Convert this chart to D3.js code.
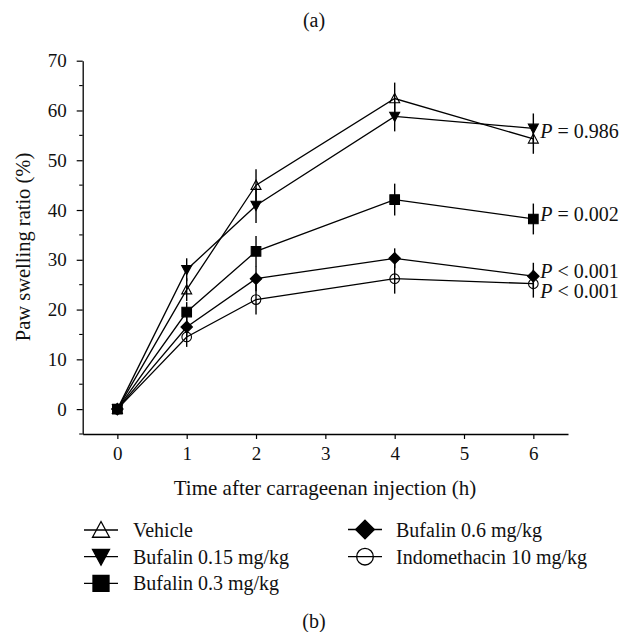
<!DOCTYPE html>
<html>
<head>
<meta charset="utf-8">
<script src="https://cdn.jsdelivr.net/npm/d3@7"></script>
<style>
  html, body { margin: 0; padding: 0; background: #fff; }
  svg { display: block; font-family: "Liberation Serif", "Times New Roman", serif; }
</style>
</head>
<body>
<svg id="chart" width="627" height="632"></svg>
<script>
// ---- data ----
const times = [0, 1, 2, 4, 6];
const seriesNames = ["Vehicle", "Bufalin 0.15 mg/kg", "Bufalin 0.3 mg/kg", "Bufalin 0.6 mg/kg", "Indomethacin 10 mg/kg"];
const vehicle      = [0, 24.0, 45.0, 62.4, 54.3];
const vehicleErr   = [0, 2.3, 3.2, 3.2, 3.0];
const bufalin015   = [0, 28.0, 40.9, 58.8, 56.4];
const bufalin015Err= [0, 2.3, 3.5, 3.0, 3.0];
const bufalin03    = [0, 19.5, 31.7, 42.1, 38.2];
const bufalin03Err = [0, 2.0, 3.1, 3.2, 3.1];
const bufalin06    = [0, 16.5, 26.2, 30.3, 26.7];
const bufalin06Err = [0, 2.0, 2.5, 2.0, 2.7];
const indomethacin = [0, 14.5, 22.0, 26.2, 25.2];
const indomethacinErr = [0, 2.0, 3.0, 3.0, 2.8];
const xTicks = [0, 1, 2, 3, 4, 5, 6];
const yTicks = [0, 10, 20, 30, 40, 50, 60, 70];
const yMinorTicks = [-5, 5, 15, 25, 35, 45, 55, 65];
const pLabels = ["0.986", "0.002", "0.001", "0.001"];
const pOps = ["=", "=", "<", "<"];
const pLabelY = [55.9, 39.2, 27.8, 23.8];

const values = [vehicle, bufalin015, bufalin03, bufalin06, indomethacin];
const errors = [vehicleErr, bufalin015Err, bufalin03Err, bufalin06Err, indomethacinErr];
const shapes = ["triUp", "triDown", "square", "diamond", "circle"];
const filled = [false, true, true, true, false];

// ---- layout ----
const svg = d3.select("#chart");
const x = d3.scaleLinear().domain([-0.5, 6.5]).range([82.7, 568]);
const y = d3.scaleLinear().domain([-5, 70]).range([434, 60.7]);

function shapePath(kind, s) {
  // s = nominal half-size
  switch (kind) {
    case "triUp": {
      const h = s * 1.0;
      return `M0,${-h}L${s},${h * 0.85}L${-s},${h * 0.85}Z`;
    }
    case "triDown": {
      const h = s * 1.0;
      return `M0,${h}L${s},${-h * 0.85}L${-s},${-h * 0.85}Z`;
    }
    case "square":
      return `M${-s},${-s}H${s}V${s}H${-s}Z`;
    case "diamond": {
      const d = s * 1.25;
      return `M0,${-d}L${d},0L0,${d}L${-d},0Z`;
    }
    case "circle":
      return d3.arc()({innerRadius: 0, outerRadius: s, startAngle: 0, endAngle: 2 * Math.PI});
  }
}

// ---- axes ----
const yAxis = d3.axisLeft(y).tickValues(yTicks).tickSize(6).tickSizeOuter(0).tickPadding(10).tickFormat(d3.format("d"));
const gy = svg.append("g").attr("transform", `translate(${x.range()[0]},0)`).call(yAxis);
gy.selectAll(".tick text").attr("font-size", 19).attr("font-family", "Liberation Serif").attr("fill", "#111");
gy.select(".domain").attr("stroke-width", 1.3);
gy.selectAll(".tick line").attr("stroke-width", 1.2);
gy.selectAll(".minor").data(yMinorTicks).enter().append("line")
  .attr("class", "minor").attr("x1", 0).attr("x2", -3.5)
  .attr("y1", d => y(d)).attr("y2", d => y(d))
  .attr("stroke", "#000").attr("stroke-width", 1.1);

const xAxis = d3.axisBottom(x).tickValues(xTicks).tickSize(5).tickSizeOuter(0).tickPadding(8).tickFormat(d3.format("d"));
const gx = svg.append("g").attr("transform", `translate(0,${y.range()[0]})`).call(xAxis);
gx.selectAll(".tick text").attr("font-size", 19).attr("font-family", "Liberation Serif").attr("fill", "#111");
gx.select(".domain").attr("stroke-width", 1.3);
gx.selectAll(".tick line").attr("stroke-width", 1.2);

// axis titles
svg.append("text")
  .attr("x", 325).attr("y", 495)
  .attr("text-anchor", "middle").attr("font-size", 21).attr("fill", "#111")
  .text("Time after carrageenan injection (h)");
svg.append("text")
  .attr("transform", `translate(30,247) rotate(-90)`)
  .attr("text-anchor", "middle").attr("font-size", 20.5).attr("fill", "#111")
  .text("Paw swelling ratio (%)");

// panel labels
svg.append("text").attr("x", 314).attr("y", 27).attr("text-anchor", "middle")
  .attr("font-size", 20).attr("fill", "#111").text("(a)");
svg.append("text").attr("x", 314).attr("y", 628).attr("text-anchor", "middle")
  .attr("font-size", 20).attr("fill", "#111").text("(b)");

// ---- series ----
const line = d3.line().x(d => x(d[0])).y(d => y(d[1]));
const plot = svg.append("g");
values.forEach((vals, i) => {
  plot.append("path")
    .datum(times.map((t, j) => [t, vals[j]]))
    .attr("d", line).attr("fill", "none").attr("stroke", "#000").attr("stroke-width", 1.3);
});
values.forEach((vals, i) => {
  plot.selectAll(null).data(times.map((t, j) => [t, vals[j], errors[i][j]]).filter(d => d[2] > 0))
    .enter().append("line")
    .attr("x1", d => x(d[0])).attr("x2", d => x(d[0]))
    .attr("y1", d => y(d[1] - d[2])).attr("y2", d => y(d[1] + d[2]))
    .attr("stroke", "#000").attr("stroke-width", 1.4);
});
const markerSize = [5, 5, 4.8, 4.6, 4.8];
values.forEach((vals, i) => {
  plot.selectAll(null).data(times.map((t, j) => [t, vals[j]]))
    .enter().append("path")
    .attr("transform", d => `translate(${x(d[0])},${y(d[1])})`)
    .attr("d", shapePath(shapes[i], markerSize[i]))
    .attr("fill", filled[i] ? "#000" : "none")
    .attr("stroke", "#000").attr("stroke-width", 1.1);
});

// P labels
pLabels.forEach((lab, i) => {
  const t = svg.append("text")
    .attr("x", x(6) + 7).attr("y", y(pLabelY[i])).attr("dy", "0.35em")
    .attr("font-size", 20).attr("fill", "#111");
  t.append("tspan").attr("font-style", "italic").text("P");
  t.append("tspan").text(` ${pOps[i]} ${lab}`);
});

// ---- legend ----
const legendPos = [
  {sx: 101, tx: 133, ty: 530},
  {sx: 101, tx: 133, ty: 556.7},
  {sx: 101, tx: 133, ty: 583.3},
  {sx: 365, tx: 396, ty: 529.5},
  {sx: 365, tx: 396, ty: 556.7}
];
const legendMarkerSize = [8.5, 8.5, 8, 7.5, 8.3];
seriesNames.forEach((name, i) => {
  const p = legendPos[i];
  const g = svg.append("g");
  g.append("line").attr("x1", p.sx - 17).attr("x2", p.sx + 17)
    .attr("y1", p.ty).attr("y2", p.ty).attr("stroke", "#000").attr("stroke-width", 1.3);
  g.append("path").attr("transform", `translate(${p.sx},${p.ty + (shapes[i] === "triUp" ? 0 : shapes[i] === "triDown" ? 0 : 0)})`)
    .attr("d", shapePath(shapes[i], legendMarkerSize[i]))
    .attr("fill", filled[i] ? "#000" : "none")
    .attr("stroke", "#000").attr("stroke-width", 1.3);
  g.append("text").attr("x", p.tx).attr("y", p.ty).attr("dy", "0.35em")
    .attr("font-size", 20).attr("fill", "#111").text(name);
});
</script>
</body>
</html>
